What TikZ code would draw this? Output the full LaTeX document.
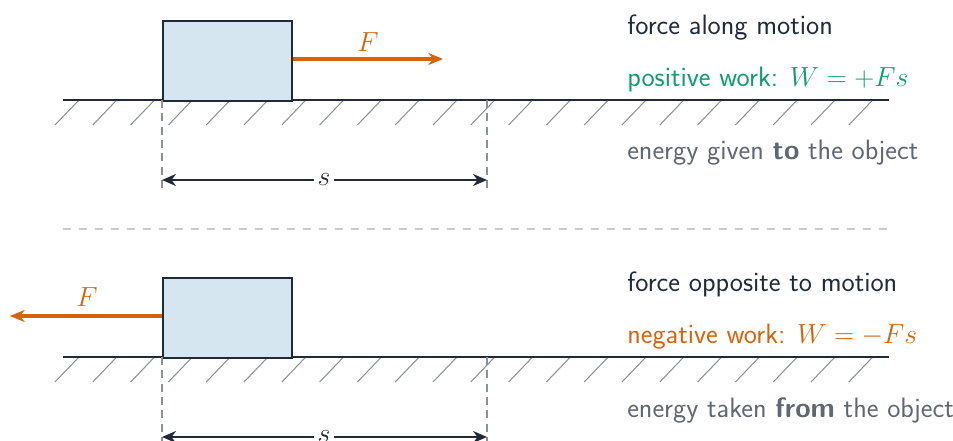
\documentclass[tikz,border=0pt]{standalone}
\usetikzlibrary{arrows.meta}
\definecolor{ink}{RGB}{33,42,56}
\definecolor{okgreen}{RGB}{18,155,115}
\definecolor{forceor}{RGB}{214,100,14}
\definecolor{muted}{RGB}{96,103,114}
\definecolor{hatchgray}{RGB}{140,145,155}
\definecolor{guidegray}{RGB}{140,145,152}
\definecolor{divgray}{RGB}{200,204,210}
\definecolor{boxfill}{RGB}{214,230,240}
\tikzset{
  ground/.style={draw=ink, line width=1.8pt},
  hatchline/.style={draw=hatchgray, line width=0.8pt},
  blockbox/.style={draw=ink, fill=boxfill, line width=1.8pt},
  forcearrow/.style={draw=forceor, line width=2.6pt, -{Stealth[length=11pt,width=9pt]}},
  disparrow/.style={draw=ink, line width=1.7pt, {Stealth[length=10.5pt,width=9pt]}-{Stealth[length=10.5pt,width=9pt]}},
  guide/.style={draw=guidegray, line width=0.8pt, dash pattern=on 6pt off 4pt},
  divider/.style={draw=divgray, line width=0.9pt, dash pattern=on 6pt off 6pt},
  txt/.style={anchor=base west, inner sep=0pt, font=\sffamily\fontsize{21}{25}\selectfont},
  flabel/.style={text=forceor, inner sep=0pt, font=\fontsize{20.5}{24}\selectfont},
  slabel/.style={fill=white, inner sep=3pt, text=ink, font=\fontsize{20.5}{24}\selectfont}
}
\begin{document}
\begin{tikzpicture}[x=0.75pt,y=-0.75pt]
\useasboundingbox (0,0) rectangle (953,441);
\clip (0,0) rectangle (953,441);
% ---------- top panel ----------
\coordinate (g1l) at (63,100);
\coordinate (g1r) at (889,100);
\foreach \k in {0,...,21} \draw[hatchline] ({55+37.8*\k},125) -- ++(24,-25);
\draw[ground] (g1l) -- (g1r);
\node[blockbox, minimum width=129*0.75pt, minimum height=80*0.75pt, inner sep=0pt, anchor=north west] (b1) at (162,20) {};
\coordinate (f1e) at (443,59);
\draw[forcearrow] (b1.east |- f1e) -- (f1e);
\node[flabel] (fl1) at (368,42) {$F$};
\coordinate (d1a) at (162,100);
\coordinate (d1b) at (487,100);
\coordinate (d1c) at (162,189);
\coordinate (d1d) at (487,189);
\draw[guide] (d1a) -- (d1c);
\draw[guide] (d1b) -- (d1d);
\coordinate (s1a) at (162,180);
\coordinate (s1b) at (487,180);
\draw[disparrow] (s1a) -- (s1b);
\node[slabel] (s1) at (324,180) {$s$};
\node[txt, text=ink] (t1) at (627,35) {force along motion};
\node[txt, text=okgreen] (t2) at (627,87) {positive work: $W=+Fs$};
\node[txt, text=muted] (t3) at (627,160) {energy given \textbf{to} the object};
% ---------- divider ----------
\coordinate (dvl) at (63,229);
\coordinate (dvr) at (889,229);
\draw[divider] (dvl) -- (dvr);
% ---------- bottom panel ----------
\coordinate (g2l) at (63,357);
\coordinate (g2r) at (889,357);
\foreach \k in {0,...,21} \draw[hatchline] ({55+37.8*\k},382) -- ++(24,-25);
\draw[ground] (g2l) -- (g2r);
\node[blockbox, minimum width=129*0.75pt, minimum height=80*0.75pt, inner sep=0pt, anchor=north west] (b2) at (162,277) {};
\coordinate (f2e) at (10,316);
\draw[forcearrow] (b2.west |- f2e) -- (f2e);
\node[flabel] (fl2) at (87,297) {$F$};
\coordinate (d2a) at (162,357);
\coordinate (d2b) at (487,357);
\coordinate (d2c) at (162,446);
\coordinate (d2d) at (487,446);
\draw[guide] (d2a) -- (d2c);
\draw[guide] (d2b) -- (d2d);
\coordinate (s2a) at (162,437);
\coordinate (s2b) at (487,437);
\draw[disparrow] (s2a) -- (s2b);
\node[slabel] (s2) at (324,437) {$s$};
\node[txt, text=ink] (t4) at (627,292) {force opposite to motion};
\node[txt, text=forceor] (t5) at (627,344) {negative work: $W=-Fs$};
\node[txt, text=muted] (t6) at (627,417) {energy taken \textbf{from} the object};
\end{tikzpicture}
\end{document}
